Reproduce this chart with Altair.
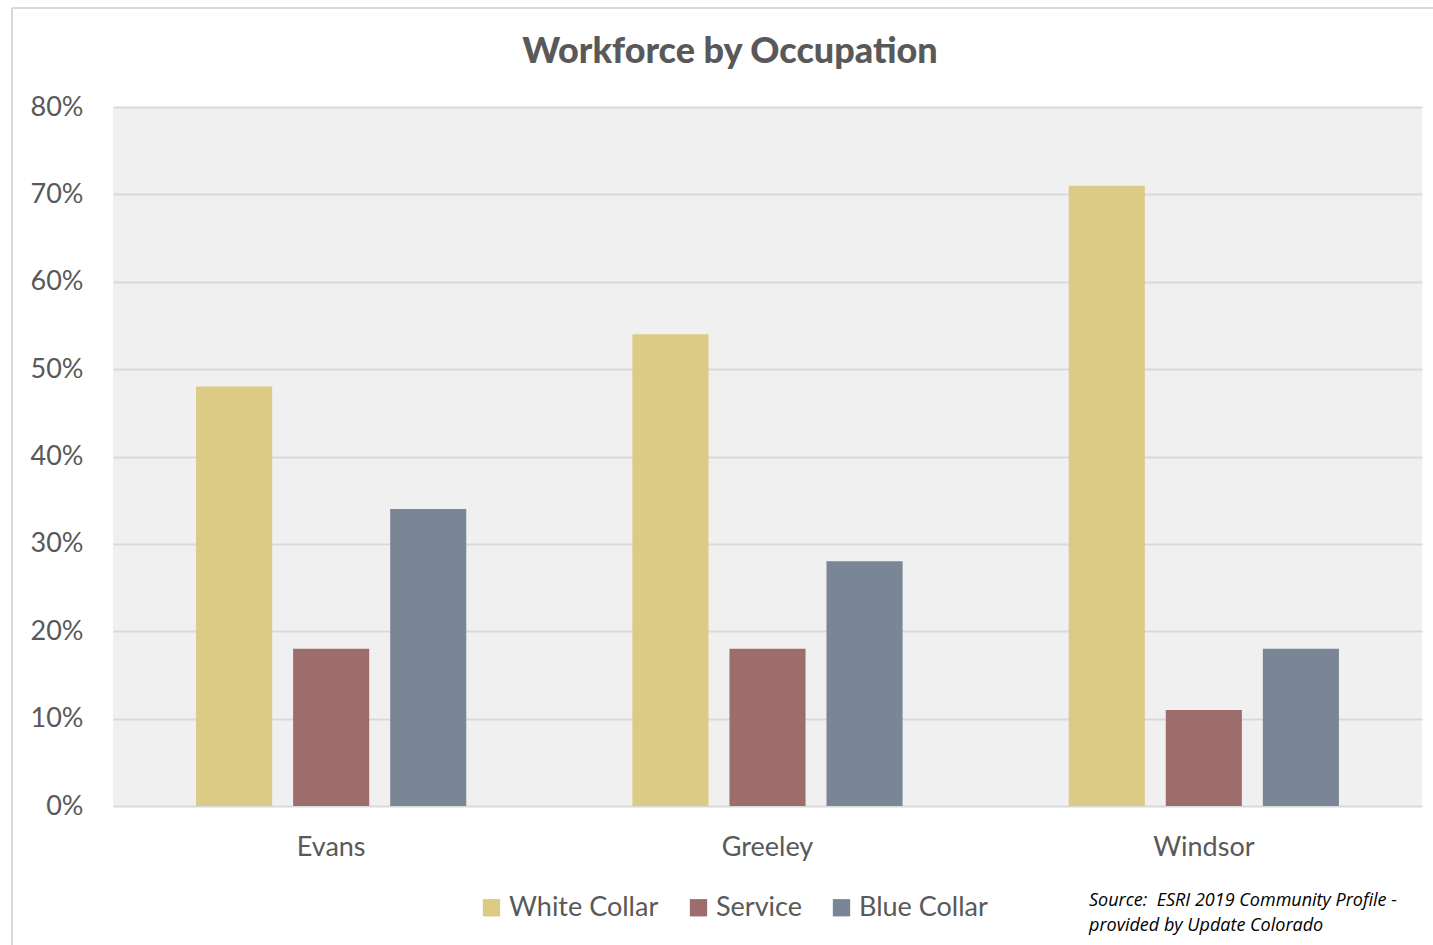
import altair as alt
import pandas as pd

cities = ["Evans", "Greeley", "Windsor"]
categories = ["White Collar", "Service", "Blue Collar"]
white_collar = [48, 54, 71]
service = [18, 18, 11]
blue_collar = [34, 28, 18]
colors = ["#dbcb85", "#9d6d6d", "#7a8595"]
y_ticks = [0, 10, 20, 30, 40, 50, 60, 70, 80]
title_text = "Workforce by Occupation"
source_lines = ["Source:\u00a0 ESRI 2019 Community Profile -", "provided by Update Colorado"]

rows = []
for i, c in enumerate(cities):
    rows.append({"city": c, "category": categories[0], "value": white_collar[i]})
    rows.append({"city": c, "category": categories[1], "value": service[i]})
    rows.append({"city": c, "category": categories[2], "value": blue_collar[i]})
df = pd.DataFrame(rows)

FONT = "Lato"
TEXT = "#595959"
W, H = 1309, 699
PL, PT = 113, 107

bars = alt.Chart(df).mark_bar().encode(
    x=alt.X("city:N", sort=cities, title=None,
            scale=alt.Scale(paddingInner=0, paddingOuter=0),
            axis=alt.Axis(labelAngle=0, ticks=False, domain=False, labelPadding=28,
                          labelFontSize=27, labelColor=TEXT, labelFont=FONT, grid=False)),
    xOffset=alt.XOffset("category:N", sort=categories,
                        scale=alt.Scale(paddingInner=0.216, paddingOuter=0.856)),
    y=alt.Y("value:Q", title=None, scale=alt.Scale(domain=[0, 80]),
            axis=alt.Axis(values=y_ticks, labelExpr="datum.value + '%'", ticks=False,
                          domain=False, labelPadding=30, labelFontSize=27,
                          labelColor=TEXT, labelFont=FONT, gridColor="#d9d9d9",
                          gridWidth=2)),
    color=alt.Color("category:N", sort=categories,
                    scale=alt.Scale(domain=categories, range=colors),
                    legend=alt.Legend(title=None, orient="none", direction="horizontal",
                                      legendX=365, legendY=787, symbolType="square",
                                      symbolSize=300, symbolStrokeWidth=0,
                                      labelFontSize=27, labelColor=TEXT, labelFont=FONT,
                                      columnPadding=26, labelOffset=4,
                                      symbolOpacity=1)),
)

title = alt.Chart(pd.DataFrame({"i": [0]})).mark_text(
    align="center", baseline="alphabetic", fontSize=36, fontWeight=900,
    font=FONT, color=TEXT, text=title_text,
).encode(x=alt.value(730 - PL), y=alt.value(63 - PT))

source = alt.Chart(pd.DataFrame({"i": [0]})).mark_text(
    align="left", baseline="alphabetic", fontSize=18, fontStyle="italic",
    font="Open Sans", color="#000000", lineHeight=25,
    text=source_lines,
).encode(x=alt.value(1089 - PL), y=alt.value(906 - PT))

one = pd.DataFrame({"i": [0]})
frame_left = alt.Chart(one).mark_rule(color="#d9d9d9", strokeWidth=2).encode(
    x=alt.value(12 - PL), y=alt.value(8 - PT), y2=alt.value(950 - PT))
frame_top = alt.Chart(one).mark_rule(color="#d9d9d9", strokeWidth=2).encode(
    x=alt.value(12 - PL), x2=alt.value(1440 - PL), y=alt.value(8 - PT))

chart = alt.layer(bars, title, source, frame_left, frame_top).properties(
    width=W, height=H,
    autosize=alt.AutoSizeParams(type="none"),
    padding={"left": PL, "top": PT, "right": 1433 - PL - W, "bottom": 945 - PT - H},
    background="white",
).configure_view(fill="#f0f0f0", strokeWidth=0)

chart.save("out.html", embed_options={"renderer": "svg", "actions": False})
